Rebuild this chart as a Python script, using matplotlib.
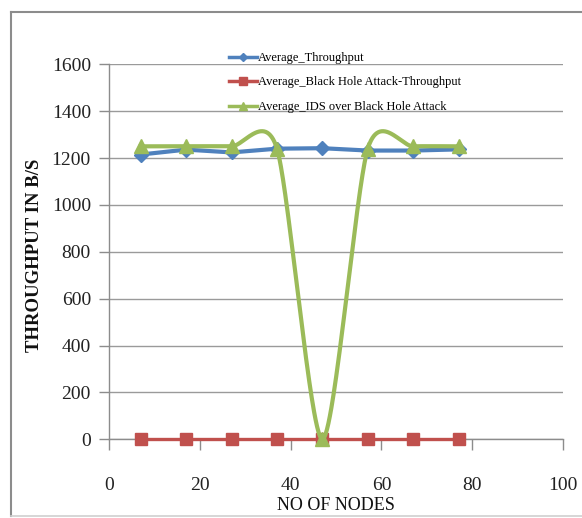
import numpy as np
import matplotlib
matplotlib.use("Agg")
import matplotlib.pyplot as plt
from matplotlib.lines import Line2D

# Series data
nodes = [7, 17, 27, 37, 47, 57, 67, 77]
avg_throughput = [1215, 1236, 1224, 1240, 1242, 1232, 1232, 1237]
blackhole_throughput = [0, 0, 0, 0, 0, 0, 0, 0]
ids_throughput = [1250, 1250, 1250, 1240, 0, 1240, 1250, 1250]

labels = ["Average_Throughput",
          "Average_Black Hole Attack-Throughput",
          "Average_IDS over Black Hole Attack"]
colors = ["#4F81BD", "#C0504D", "#9BBB59"]

x_ticks = [0, 20, 40, 60, 80, 100]
y_ticks = [0, 200, 400, 600, 800, 1000, 1200, 1400, 1600]


def smooth_curve(xs, ys, tension=0.13, n=60):
    """Cubic Bezier smoothing that passes through every point."""
    xs = np.asarray(xs, float)
    ys = np.asarray(ys, float)
    px = np.concatenate([[xs[0]], xs, [xs[-1]]])
    py = np.concatenate([[ys[0]], ys, [ys[-1]]])
    out_x, out_y = [], []
    t = np.linspace(0, 1, n)
    for i in range(1, len(px) - 2):
        p0 = np.array([px[i], py[i]])
        p3 = np.array([px[i + 1], py[i + 1]])
        c1 = p0 + (np.array([px[i + 1], py[i + 1]]) - np.array([px[i - 1], py[i - 1]])) * tension
        c2 = p3 - (np.array([px[i + 2], py[i + 2]]) - np.array([px[i], py[i]])) * tension
        b = ((1 - t) ** 3)[:, None] * p0 + (3 * (1 - t) ** 2 * t)[:, None] * c1 \
            + (3 * (1 - t) * t ** 2)[:, None] * c2 + (t ** 3)[:, None] * p3
        out_x.extend(b[:, 0])
        out_y.extend(b[:, 1])
    return np.array(out_x), np.array(out_y)


W, H = 582, 518
fig = plt.figure(figsize=(W / 100, H / 100), dpi=100)
ax = fig.add_axes([109 / W, 1 - 439.3 / H, (563 - 109) / W, (439.3 - 64.3) / H])

serif = ["Liberation Serif", "DejaVu Serif"]

# chart-area frame (left, top, bottom edges)
frame_kw = dict(transform=fig.transFigure, color="#8c8c8c", lw=1.5, clip_on=False)
fig.add_artist(Line2D([11 / W, 11 / W], [1 - 12 / H, 1 - 516 / H], **frame_kw))
fig.add_artist(Line2D([11 / W, 1.0], [1 - 12 / H, 1 - 12 / H], **frame_kw))
fig.add_artist(Line2D([11 / W, 1.0], [1 - 516 / H, 1 - 516 / H],
                      transform=fig.transFigure, color="#d0d0d0", lw=1.2, clip_on=False))

ax.set_xlim(0, 100)
ax.set_ylim(0, 1600)
ax.set_xticks(x_ticks)
ax.set_yticks(y_ticks)
ax.grid(axis="y", color="#9a9a9a", lw=1.0)
ax.set_axisbelow(True)
for side in ["top", "right"]:
    ax.spines[side].set_visible(False)
for side in ["left", "bottom"]:
    ax.spines[side].set_color("#8c8c8c")
    ax.spines[side].set_linewidth(1.0)
ax.tick_params(axis="y", length=7, width=1, color="#8c8c8c", pad=6)
ax.tick_params(axis="x", length=8, width=1, color="#8c8c8c", pad=19)
for lab in ax.get_xticklabels() + ax.get_yticklabels():
    lab.set_family(serif)
    lab.set_fontsize(14)
    lab.set_color("#222222")

lw = 3.0
ax.plot(nodes, avg_throughput, color=colors[0], lw=lw, marker="D", ms=7,
        zorder=3, clip_on=False)
ax.plot(nodes, blackhole_throughput, color=colors[1], lw=lw - 0.6, marker="s", ms=9,
        zorder=4, clip_on=False)
sx, sy = smooth_curve(nodes, ids_throughput)
ax.plot(sx, sy, color=colors[2], lw=lw, zorder=5, clip_on=False)
ax.plot(nodes, ids_throughput, color=colors[2], lw=0, marker="^", ms=10,
        zorder=5, clip_on=False)

handles = [
    Line2D([], [], color=colors[0], lw=2.5, marker="D", ms=4.5),
    Line2D([], [], color=colors[1], lw=2.5, marker="s", ms=6),
    Line2D([], [], color=colors[2], lw=2.5, marker="^", ms=6),
]
fig.legend(handles, labels, loc="upper left", bbox_to_anchor=(229 / W, 1 - 52 / H),
           bbox_transform=fig.transFigure,
           frameon=False, prop={"family": serif, "size": 9}, handlelength=2.2,
           handletextpad=0.1, labelspacing=1.0, borderaxespad=0, borderpad=0)

fig.text(35 / W, 1 - 255 / H, "THROUGHPUT IN B/S", family=serif, fontsize=13.5,
         fontweight="bold", rotation=90, ha="center", va="center", color="#111111")
fig.text(336 / W, 1 - 505 / H, "NO OF NODES", family=serif, fontsize=13,
         ha="center", va="center", color="#111111")

fig.savefig("out.png", dpi=100)
